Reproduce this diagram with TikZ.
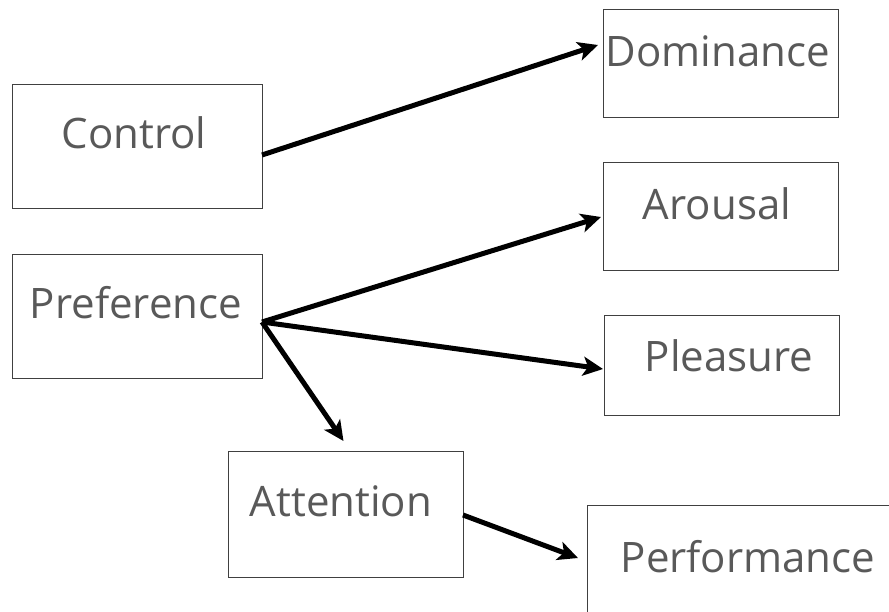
\documentclass[tikz,border=0pt]{standalone}
\usepackage{fontspec}
\setmainfont{Open Sans}
\usetikzlibrary{arrows.meta,calc}
\begin{document}
\begin{tikzpicture}[x=1pt,y=-1pt,
  box/.style={draw=black!75,line width=0.9pt,inner sep=0pt,outer sep=0pt},
  lbl/.style={inner sep=0pt,anchor=base,font=\fontsize{42}{50}\selectfont,text=black!65},
  conn/.style={line width=5pt,-{Stealth[length=20pt,width=19pt,inset=5pt]}}]
\useasboundingbox (0,0) rectangle (889,611);
\clip (0,0) rectangle (889,611);
% boxes
\node[box,minimum width=250pt,minimum height=124pt] (ctrl) at (137,146) {};
\node[box,minimum width=250pt,minimum height=124pt] (pref) at (137,316) {};
\node[box,minimum width=235pt,minimum height=108pt] (dom) at (720.5,63) {};
\node[box,minimum width=235pt,minimum height=108pt] (aro) at (720.5,216) {};
\node[box,minimum width=235pt,minimum height=100pt] (ple) at (721.5,365) {};
\node[box,minimum width=235pt,minimum height=126pt] (att) at (345.5,514) {};
\node[box,minimum width=320pt,minimum height=130pt] (perf) at (747,570) {};
% labels
\node[lbl] (tctrl) at (134,148) {Control};
\node[lbl] (tpref) at (136,318) {Preference};
\node[lbl] (tdom) at (718,66) {Dominance};
\node[lbl] (taro) at (717,219) {Arousal};
\node[lbl] (tple) at (729,371) {Pleasure};
\node[lbl] (tatt) at (341,516) {Attention};
\node[lbl] (tperf) at (748,572) {Performance};
% connectors
\draw[conn] ($(ctrl.east)+(0,9)$) -- ($(dom.west)+(-5,-18)$);
\draw[conn] ($(pref.east)+(0,6)$) -- ($(aro.west)+(-2,1)$);
\draw[conn] ($(pref.east)+(0,6)$) -- ($(ple.west)+(-1,4)$);
\draw[conn] ($(pref.east)+(0,6)$) -- ($(att.north)+(-2,-10)$);
\draw[conn] ($(att.east)+(0,1)$) -- ($(perf.west)+(-9,-12)$);
\end{tikzpicture}
\end{document}
